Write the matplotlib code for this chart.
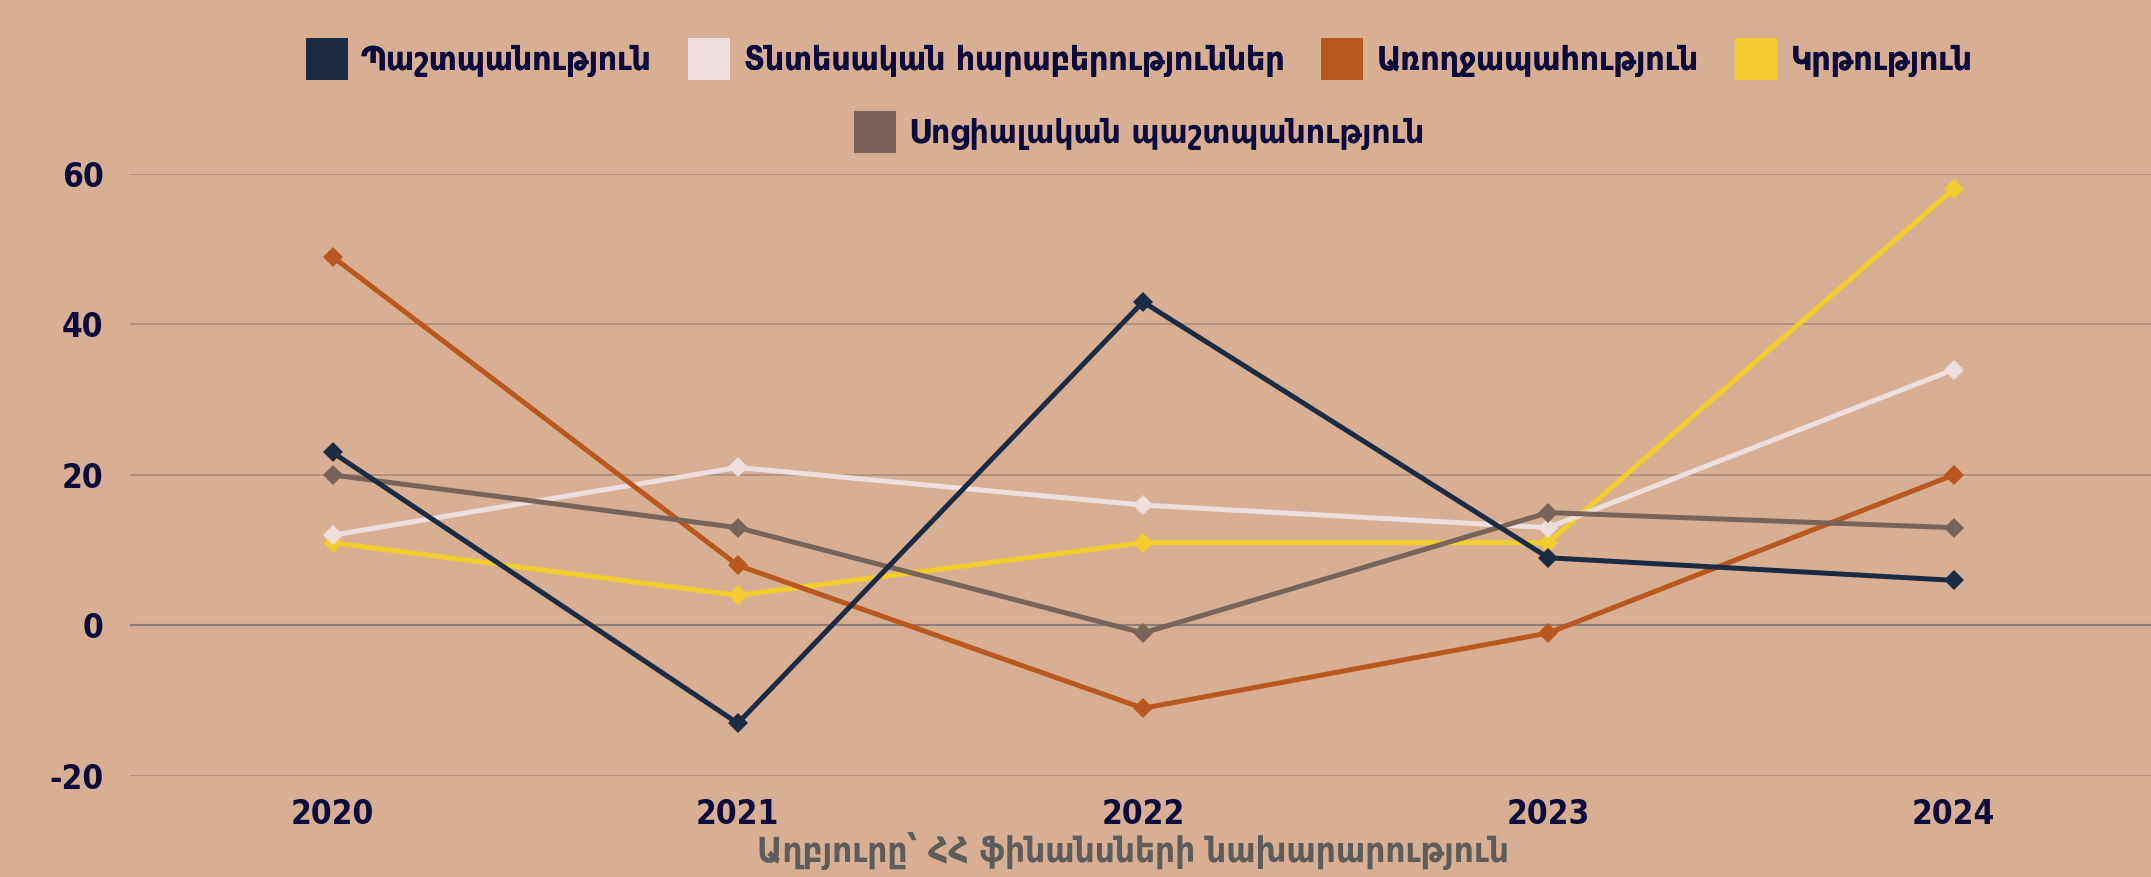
import matplotlib
matplotlib.use("Agg")
import matplotlib.pyplot as plt
from matplotlib.patches import Patch

years = ["2020", "2021", "2022", "2023", "2024"]

defense = [23, -13, 43, 9, 6]
economic = [12, 21, 16, 13, 34]
health = [49, 8, -11, -1, 20]
education = [11, 4, 11, 11, 58]
social = [20, 13, -1, 15, 13]

names = ["Պաշտպանություն", "Տնտեսական հարաբերություններ", "Առողջապահություն",
         "Կրթություն", "Սոցիալական պաշտպանություն"]
colors = ["#1B2B44", "#EEDEDD", "#B8571F", "#F3CC2E", "#776358"]

source = "Աղբյուրը՝ ՀՀ ֆինանսների նախարարություն"

bg = "#D8AF93"
txt = "#0D0A3E"

plt.rcParams['font.family'] = ['DejaVu Sans']
plt.rcParams['font.stretch'] = 'condensed'
plt.rcParams['axes.unicode_minus'] = False

fig = plt.figure(figsize=(21.51, 8.77), dpi=100, facecolor=bg)
ax = fig.add_axes([0.0604, 0.1152, 0.9420, 0.6864], facecolor=bg)

x = range(len(years))
series = [defense, economic, health, education, social]
for i in [3, 1, 2, 4, 0]:
    ax.plot(x, series[i], color=colors[i], lw=3.6, marker="D", ms=10,
            markeredgewidth=0, clip_on=False, zorder=3)

ax.set_xlim(-0.5, 4.5)
ax.set_ylim(-20, 60)
ax.set_yticks([-20, 0, 20, 40, 60])
ax.set_xticks(list(x))
ax.set_xticklabels(years)
for yv in [-20, 20, 40, 60]:
    ax.axhline(yv, color="#B3917F", lw=1.4, zorder=1)
ax.axhline(0, color="#8E7C79", lw=1.6, zorder=1)

for s in ax.spines.values():
    s.set_visible(False)
ax.tick_params(length=0, labelsize=24, labelcolor=txt)
ax.tick_params(axis="y", pad=19)
ax.tick_params(axis="x", pad=16)
for lab in ax.get_xticklabels() + ax.get_yticklabels():
    lab.set_fontweight("bold")

handles = [Patch(facecolor=c, edgecolor="none") for c in colors]
leg_kw = dict(frameon=False, handlelength=1.26, handleheight=1.55,
              handletextpad=0.4, columnspacing=1.1, borderpad=0, labelcolor=txt,
              prop=dict(weight="bold", size=24, stretch="condensed"))
leg1 = fig.legend(handles[:4], names[:4], ncol=4, loc="center",
                  bbox_to_anchor=(0.5295, 0.9327), **leg_kw)
fig.add_artist(leg1)
leg2 = fig.legend(handles[4:], names[4:], ncol=1, loc="center",
                  bbox_to_anchor=(0.5295, 0.8495), **leg_kw)

fig.text(0.5265, 0.030, source, ha="center", va="center", fontsize=25,
         color="#5E5C5A", fontweight="bold")

fig.savefig("out.png", dpi=100, facecolor=bg)
